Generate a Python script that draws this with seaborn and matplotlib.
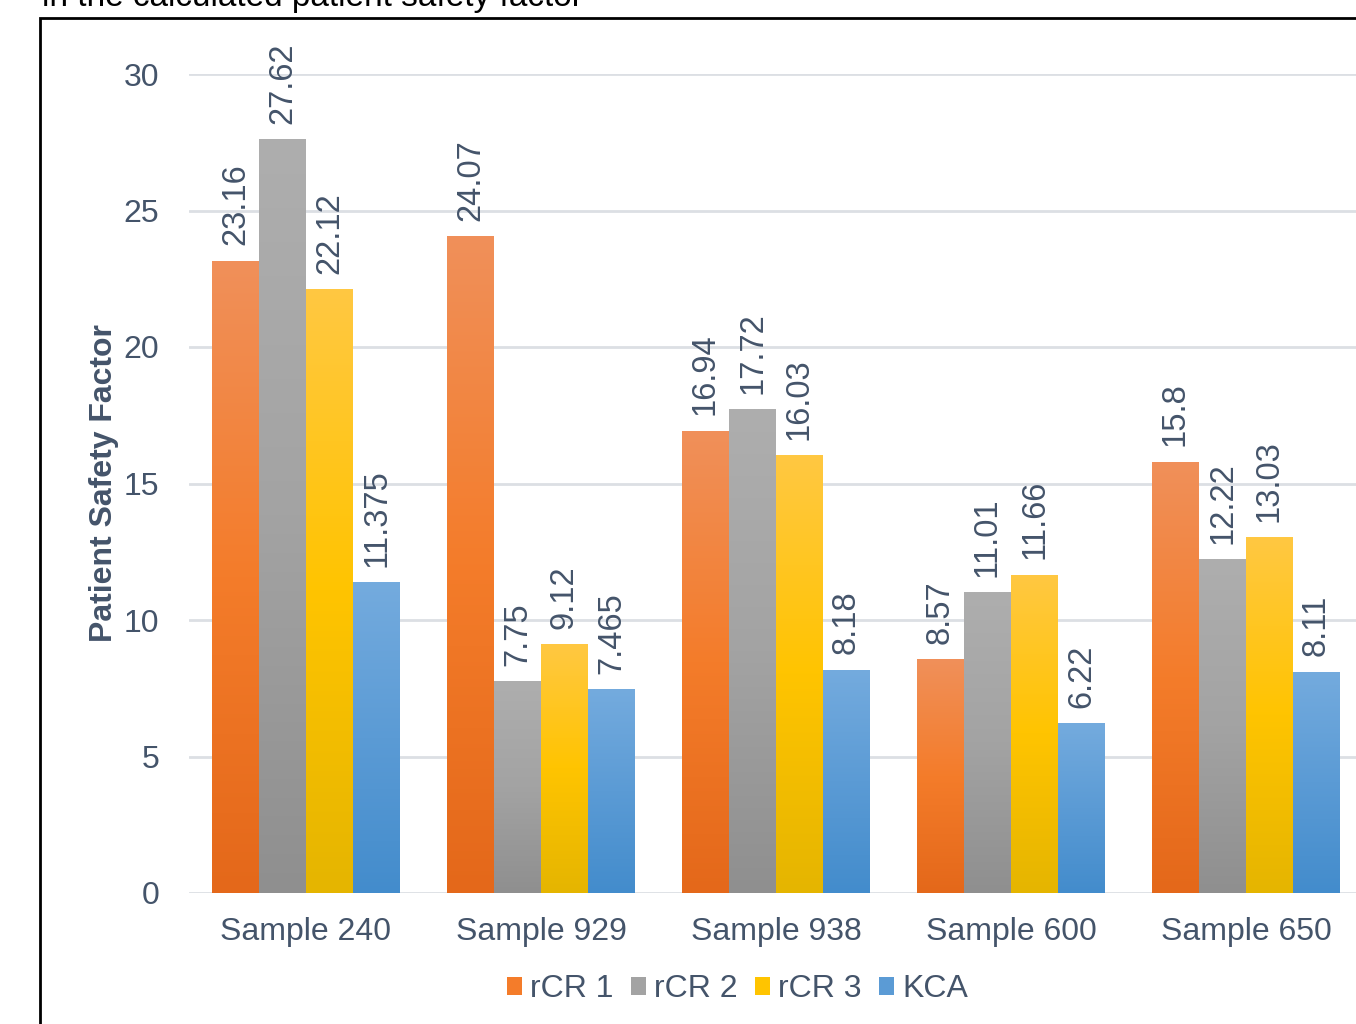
import numpy as np
import pandas as pd
import matplotlib
matplotlib.use("Agg")
import matplotlib.pyplot as plt
from matplotlib.colors import LinearSegmentedColormap
from matplotlib.patches import Rectangle
import seaborn as sns

samples = ["Sample 240", "Sample 929", "Sample 938", "Sample 600", "Sample 650"]
series = ["rCR 1", "rCR 2", "rCR 3", "KCA"]
rcr1 = [23.16, 24.07, 16.94, 8.57, 15.8]
rcr2 = [27.62, 7.75, 17.72, 11.01, 12.22]
rcr3 = [22.12, 9.12, 16.03, 11.66, 13.03]
kca = [11.375, 7.465, 8.18, 6.22, 8.11]
yticks = [0, 5, 10, 15, 20, 25, 30]

base_colors = ["#F47C2A", "#A3A3A3", "#FFC400", "#5B9BD5"]
top_colors = ["#F0905A", "#AEAEAE", "#FFC842", "#74ABDE"]
bot_colors = ["#E4681A", "#8F8F8F", "#E5B500", "#438CCC"]

df = pd.DataFrame({
    "Sample": samples * 4,
    "Series": sum([[s] * len(samples) for s in series], []),
    "Value": rcr1 + rcr2 + rcr3 + kca,
})

sns.set_theme(style="white")
plt.rcParams["font.family"] = ["Liberation Sans", "DejaVu Sans"]
text_col = "#44546A"

fig = plt.figure(figsize=(13.56, 10.24), dpi=100)
W, H = 1356, 1024
left_px, right_px, top_px, bot_px = 188.5, 1363.5, 74, 893
ax = fig.add_axes([left_px / W, 1 - bot_px / H, (right_px - left_px) / W, (bot_px - top_px) / H])

sns.barplot(data=df, x="Sample", y="Value", hue="Series", order=samples,
            hue_order=series, palette=base_colors, width=0.8, gap=0,
            saturation=1, ax=ax, legend=True, linewidth=0, zorder=3)

# gradient fill clipped to each bar
for ci, cont in enumerate(ax.containers):
    cmap = LinearSegmentedColormap.from_list(
        "g%d" % ci, [bot_colors[ci], base_colors[ci], top_colors[ci]])
    for bar in cont:
        x0 = bar.get_x(); w = bar.get_width(); h = bar.get_height()
        grad = np.linspace(0, 1, 256).reshape(-1, 1)
        im = ax.imshow(grad, extent=[x0, x0 + w, 0, h], origin="lower",
                       aspect="auto", cmap=cmap, zorder=3.5, interpolation="bilinear")
        im.set_clip_path(bar)
    ax.bar_label(cont, labels=[str(v) for v in cont.datavalues], rotation=90,
                 padding=11, fontsize=23.5, color=text_col, zorder=5)

ax.set_xlim(-0.5, 4.5)
ax.set_ylim(0, 30)
ax.set_yticks(yticks)
ax.set_yticklabels([str(t) for t in yticks])
ax.grid(axis="y", color="#DCDFE4", linewidth=2, zorder=0)
ax.grid(axis="x", visible=False)
for s in ax.spines.values():
    s.set_visible(False)
ax.tick_params(axis="y", length=0, pad=21, labelsize=23, labelcolor=text_col)
ax.tick_params(axis="x", length=0, pad=17, labelsize=23, labelcolor=text_col)
ax.set_xlabel("")
ax.set_ylabel("Patient Safety Factor", fontsize=23, fontweight="bold",
              color=text_col, labelpad=3.5)

leg = ax.legend(loc="upper center", bbox_to_anchor=(0.467, -0.080), ncol=4,
                frameon=False, fontsize=23, handlelength=0.47, handleheight=0.47,
                handletextpad=0.25, columnspacing=0.55, labelcolor=text_col,
                borderpad=0)
for h, c in zip(leg.legend_handles, base_colors):
    h.set_facecolor(c)

# outer frame (cropped screenshot)
fig.patches.append(Rectangle((40 / W, -0.1), 1.2, 1 - 18 / H + 0.1, transform=fig.transFigure,
                             fill=False, edgecolor="black", linewidth=2, zorder=10))
fig.text(42 / W, 1 - 6 / H, "in the calculated patient safety factor", fontsize=24,
         color="black", ha="left", va="baseline", family=["Liberation Sans", "DejaVu Sans"])

fig.savefig("out.png", dpi=100)
